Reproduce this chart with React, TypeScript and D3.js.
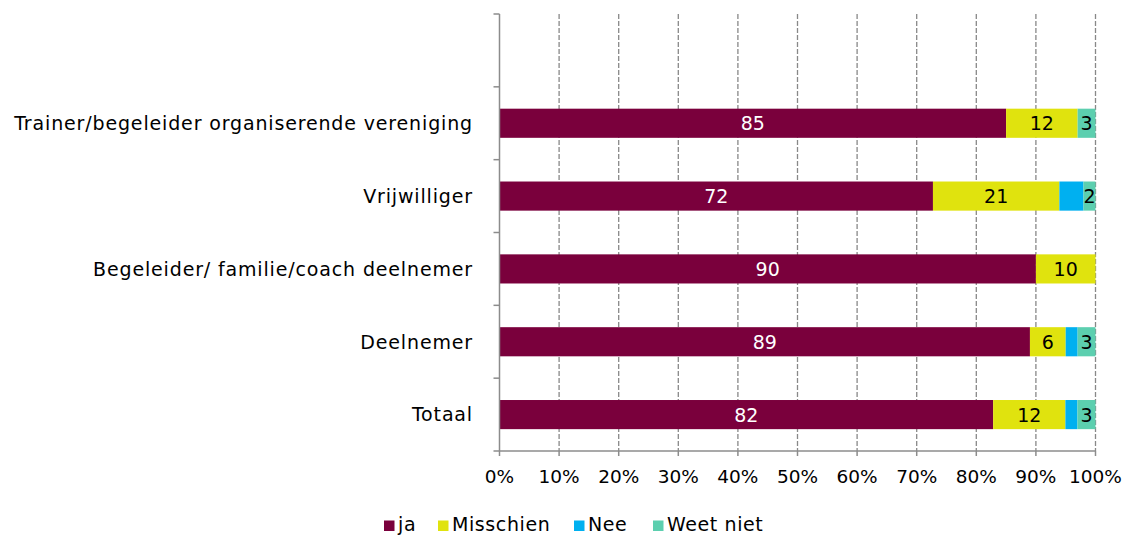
import React, { useEffect, useRef } from 'react';
import * as d3 from 'd3';

const categories = [
  'Trainer/begeleider organiserende vereniging',
  'Vrijwilliger',
  'Begeleider/ familie/coach deelnemer',
  'Deelnemer',
  'Totaal',
];
const seriesNames = ['ja', 'Misschien', 'Nee', 'Weet niet'];
const ja = [85, 72, 90, 89, 82];
const misschien = [12, 21, 10, 6, 12];
const nee = [0, 4, 0, 2, 2];
const weetNiet = [3, 2, 0, 3, 3];
const showLabels = [true, true, false, true];
const xTicks = [0, 0.1, 0.2, 0.3, 0.4, 0.5, 0.6, 0.7, 0.8, 0.9, 1];
const colors = ['#7a003c', '#e0e30e', '#00b0f0', '#5ccfaf'];

const FONT = 'DejaVu Sans';

const App: React.FC = () => {
  const svgRef = useRef<SVGSVGElement>(null);

  useEffect(() => {
    if (!svgRef.current) return;
    const svg = d3.select(svgRef.current);
    svg.selectAll('*').remove();

    const left = 499.5;
    const right = 1095.5;
    const top = 14;
    const bottom = 451;

    const x = d3.scaleLinear().domain([0, 1]).range([left, right]);
    // first slot is empty, as in the original
    const y = d3
      .scaleBand<string>()
      .domain(['', ...categories])
      .range([top, bottom])
      .paddingInner(0.6)
      .paddingOuter(0.3);
    const step = y.step();

    // gridlines
    svg
      .append('g')
      .selectAll('line')
      .data(xTicks.slice(1))
      .enter()
      .append('line')
      .attr('x1', (d) => x(d))
      .attr('x2', (d) => x(d))
      .attr('y1', top)
      .attr('y2', bottom)
      .attr('stroke', '#888')
      .attr('stroke-width', 1.3)
      .attr('stroke-dasharray', '5,2');

    const values = [ja, misschien, nee, weetNiet];
    const rows = categories.map((c, i) => {
      const vals = values.map((s) => s[i]);
      const total = d3.sum(vals);
      let acc = 0;
      return vals.map((v, k) => {
        const seg = { cat: c, k, v, x0: acc / total, x1: (acc + v) / total };
        acc += v;
        return seg;
      });
    });
    const segs = rows.flat().filter((s) => s.v > 0);

    svg
      .append('g')
      .selectAll('rect')
      .data(segs)
      .enter()
      .append('rect')
      .attr('x', (d) => x(d.x0))
      .attr('y', (d) => y(d.cat) || 0)
      .attr('width', (d) => x(d.x1) - x(d.x0))
      .attr('height', y.bandwidth())
      .attr('fill', (d) => colors[d.k]);

    svg
      .append('g')
      .selectAll('text')
      .data(segs.filter((d) => showLabels[d.k]))
      .enter()
      .append('text')
      .attr('x', (d) => (x(d.x0) + x(d.x1)) / 2)
      .attr('y', (d) => (y(d.cat) || 0) + y.bandwidth() / 2)
      .attr('dy', '0.38em')
      .attr('text-anchor', 'middle')
      .attr('font-family', FONT)
      .attr('font-size', 19)
      .attr('fill', (d) => (d.k === 0 ? '#fff' : '#000'))
      .text((d) => d.v);

    // left axis
    const ax = svg.append('g').attr('stroke', '#8c8c8c').attr('stroke-width', 1.5);
    ax.append('line').attr('x1', left).attr('x2', left).attr('y1', top).attr('y2', bottom);
    ax.selectAll('.yt')
      .data(d3.range(0, 7))
      .enter()
      .append('line')
      .attr('x1', left - 6)
      .attr('x2', left)
      .attr('y1', (i) => top + i * step)
      .attr('y2', (i) => top + i * step);
    // bottom axis
    ax.append('line').attr('x1', left).attr('x2', right).attr('y1', bottom).attr('y2', bottom);
    ax.selectAll('.xt')
      .data(xTicks)
      .enter()
      .append('line')
      .attr('x1', (d) => x(d))
      .attr('x2', (d) => x(d))
      .attr('y1', bottom)
      .attr('y2', bottom + 5);

    svg
      .append('g')
      .selectAll('text')
      .data(categories)
      .enter()
      .append('text')
      .attr('x', 473)
      .attr('y', (d) => (y(d) || 0) + y.bandwidth() / 2)
      .attr('dy', '0.36em')
      .attr('text-anchor', 'end')
      .attr('font-family', FONT)
      .attr('font-size', 19)
      .attr('letter-spacing', 0.85)
      .attr('fill', '#000')
      .text((d) => d);

    svg
      .append('g')
      .selectAll('text')
      .data(xTicks)
      .enter()
      .append('text')
      .attr('x', (d) => x(d))
      .attr('y', 483)
      .attr('text-anchor', 'middle')
      .attr('font-family', FONT)
      .attr('font-size', 18.5)
      .attr('fill', '#000')
      .text((d) => d3.format('.0%')(d));

    // legend
    const legendX = [384, 438, 574, 653];
    const lg = svg
      .append('g')
      .selectAll('g')
      .data(seriesNames)
      .enter()
      .append('g')
      .attr('transform', (_, i) => `translate(${legendX[i]},0)`);
    lg.append('rect')
      .attr('x', 0)
      .attr('y', 520.5)
      .attr('width', 10.5)
      .attr('height', 10.5)
      .attr('fill', (_, i) => colors[i]);
    lg.append('text')
      .attr('x', 14)
      .attr('y', 531)
      .attr('font-family', FONT)
      .attr('font-size', 19)
      .attr('letter-spacing', 0.6)
      .attr('fill', '#000')
      .text((d) => d);
  }, []);

  return (
    <svg
      ref={svgRef}
      width={1129}
      height={536}
      style={{ position: 'absolute', left: 0, top: 0, background: '#fff' }}
    />
  );
};

export default App;
